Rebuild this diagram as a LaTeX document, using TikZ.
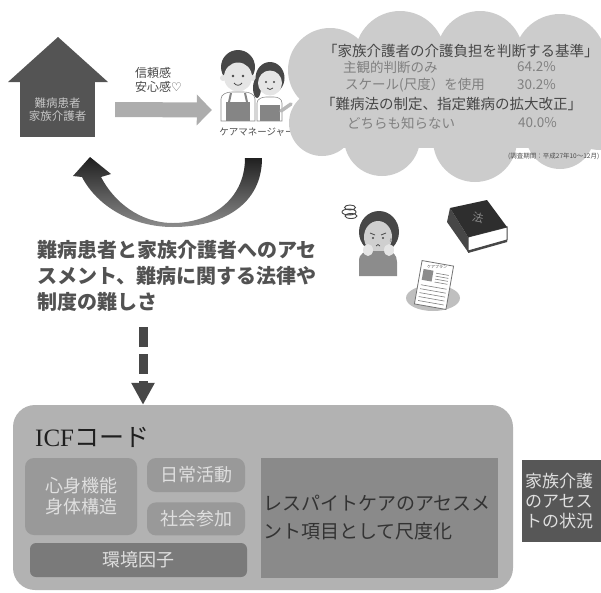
\documentclass[tikz,border=0pt]{standalone}
\usepackage{fontspec}
\setmainfont{Noto Sans CJK JP}
\newfontfamily\symfont{DejaVu Sans}
\newfontfamily\latinserif{Liberation Serif}
\usepackage{xcolor}
\usetikzlibrary{arrows.meta, positioning, calc}

\definecolor{housegray}{gray}{0.33}
\definecolor{barsgray}{gray}{0.68}
\definecolor{cloudgray}{gray}{0.80}
\definecolor{hair}{gray}{0.28}
\definecolor{skin}{gray}{0.90}
\definecolor{apron}{gray}{0.52}
\definecolor{outline}{gray}{0.55}
\definecolor{icfgray}{gray}{0.70}
\definecolor{subgray}{gray}{0.60}
\definecolor{envgray}{gray}{0.48}
\definecolor{respgray}{gray}{0.54}
\definecolor{stategray}{gray}{0.34}

\begin{document}
\begin{tikzpicture}[x=1pt, y=-1pt,
    home/.style={fill=housegray, minimum width=75pt, minimum height=55pt, inner sep=0pt, align=center, text=gray!45, font={\fontsize{11.5}{13.5}\selectfont}},
    trustarrow/.style={barsgray, line width=15pt, -{Triangle[length=15pt, width=30pt]}},
    cloudhead/.style={anchor=west, inner sep=0pt, text=black!72, font={\fontsize{14.5}{16}\selectfont}},
    clouditem/.style={anchor=west, inner sep=0pt, text=black!50, font={\fontsize{13.5}{15}\selectfont}},
    subbox/.style={fill=subgray, rounded corners=9pt, inner sep=0pt, align=center, text=gray!25, font={\fontsize{18}{21}\selectfont}},
    dashflow/.style={black!72, line width=9pt, dash pattern=on 20pt off 7pt, -{Triangle[length=22pt, width=22pt]}}]
  \useasboundingbox (0,0) rectangle (601,592);

  % house of the patient and family
  \node[home] (hbody) at (57.5,109.5) {難病患者\\家族介護者};
  \fill[housegray] (8,82) -- (58,37) -- (108,82) -- cycle;

  % care managers
  \node[minimum width=76pt, minimum height=80pt] (cm) at (250,110) {};
  \fill[hair] (238,67) ellipse (17 and 17);
  \fill[skin] (238,77) ellipse (14 and 14.5);
  \fill[skin] (223,78) circle (3); \fill[skin] (253,78) circle (3);
  \fill[hair] (233,76) circle (1.3); \fill[hair] (243,76) circle (1.3);
  \draw[hair, line width=0.8pt] (234,83) .. controls (236,86) and (240,86) .. (242,83);
  \filldraw[fill=white, draw=outline, line width=0.6pt] (221,121) -- (221,99) .. controls (221,94) and (227,92) .. (232,92) -- (244,92) .. controls (249,92) and (255,94) .. (255,99) -- (255,121) -- cycle;
  \fill[apron] (226,121) -- (226,102) -- (250,102) -- (250,121) -- cycle;
  \draw[apron, line width=2pt] (229,102) -- (231,93) (247,102) -- (245,93);
  \fill[hair] (257,88) ellipse (4 and 10);
  \fill[hair] (270,78) ellipse (14.5 and 16);
  \fill[skin] (270,83) ellipse (12 and 12.5);
  \fill[hair] (266,82) circle (1.1); \fill[hair] (274,82) circle (1.1);
  \draw[hair, line width=0.7pt] (267,88) .. controls (269,90) and (271,90) .. (273,88);
  \filldraw[fill=white, draw=outline, line width=0.6pt] (257,121) -- (257,103) .. controls (257,99) and (262,97) .. (266,97) -- (274,97) .. controls (278,97) and (282,99) .. (282,103) -- (282,121) -- cycle;
  \fill[apron] (260,121) -- (260,105) -- (280,105) -- (280,121) -- cycle;
  \draw[skin!80!black, line width=3.5pt, line cap=round] (281,111) -- (291,104);
  \node[font={\fontsize{9.5}{10}\selectfont}, text=black!70, inner sep=0pt] (cmlabel) at (257,132) {ケアマネージャー};

  % trust arrow
  \draw[trustarrow] ([xshift=20pt]hbody.east) -- (cm.west);
  \node[anchor=north west, align=left, inner sep=0pt, text=black!72, font={\fontsize{12}{14}\selectfont}] (trust) at (135,67) {信頼感\\安心感{\symfont ♡}};

  % thought cloud
  \fill[cloudgray] (330,70) circle (42) (322,123) circle (33) (400,56) circle (45)
    (480,54) circle (43) (560,60) circle (46) (382,138) circle (38)
    (475,140) circle (42) (560,135) circle (34) (600,110) circle (40);
  \fill[cloudgray] (330,60) rectangle (601,148);
  \node[cloudhead] (q1) at (323,51) {「家族介護者の介護負担を判断する基準」};
  \node[clouditem] (a1) at (343,67) {主観的判断のみ};
  \node[clouditem] (p1) at (517,67) {64.2\%};
  \node[clouditem] (a2) at (345,85) {スケール(尺度）を使用};
  \node[clouditem] (p2) at (517,85) {30.2\%};
  \node[cloudhead] (q2) at (321,104) {「難病法の制定、指定難病の拡大改正」};
  \node[clouditem] (a3) at (347,123) {どちらも知らない};
  \node[clouditem] (p3) at (518,123) {40.0\%};
  \node[anchor=west, inner sep=0pt, text=black!70, font={\fontsize{6.5}{7}\selectfont}] (period) at (508,156) {(調査期間：平成27年10～12月)};

  % returning arrow
  \shade[top color=black!88, bottom color=black!45]
    (262,158) .. controls (262,205) and (222,227) .. (173,227)
    .. controls (132,227) and (97,206) .. (82,177) -- (73,176) -- (90,157) -- (111,174) -- (101,177)
    .. controls (114,202) and (140,223) .. (173,223)
    .. controls (210,223) and (245,200) .. (245,158) -- cycle;

  % worried family carer
  \draw[hair, line width=0.9pt] (349,212) ellipse (7 and 3) (350,207.5) ellipse (5.5 and 2.5) (351,216) ellipse (6 and 2.5);
  \fill[hair] (379,232) ellipse (20 and 21);
  \fill[skin!90!black] (378,237) ellipse (14 and 16);
  \fill[black!45] (359,276) -- (359,261) .. controls (359,253) and (365,251) .. (372,251) -- (386,251) .. controls (393,251) and (397,255) .. (397,262) -- (397,276) -- cycle;
  \fill[skin] (368,250) ellipse (5 and 6) (389,250) ellipse (5 and 6);
  \draw[hair, line width=0.8pt] (370,233) -- (375,235) (386,233) -- (381,235);
  \fill[hair] (373,238) circle (1.1) (383,238) circle (1.1);
  \draw[hair, line width=0.7pt] (376,246) .. controls (377,244) and (379,244) .. (380,246);
  \filldraw[fill=white, draw=black!50, line width=0.5pt] (391,238) .. controls (388,243) and (394,243) .. (391,238);

  % law book
  \fill[hair] (450,208) -- (468,237) -- (468,252) -- (447,222) -- cycle;
  \filldraw[fill=white, draw=hair, line width=1pt] (468,237) -- (507,227) -- (507,240) -- (468,251) -- cycle;
  \draw[hair, line width=2pt] (468,252) -- (507,241);
  \fill[black!82] (450,208) -- (487,200) -- (507,227) -- (468,237) -- cycle;
  \node[rotate=-14, text=black!45, inner sep=0pt, font={\fontsize{11}{11}\selectfont}] (law) at (478,218) {法};

  % care plan sheet
  \fill[black!25] (433,298) ellipse (27 and 13);
  \begin{scope}[shift={(434,285)}, rotate=-10]
    \filldraw[fill=white, draw=black!55, line width=0.8pt] (-16,-22) rectangle (16,22);
    \node[inner sep=0pt, text=black!70, font={\fontsize{4}{4}\selectfont}] (plantitle) at (0,-18) {ケアプラン};
    \fill[black!45] (-13,-14) rectangle (-3,-3);
    \foreach \yy in {-12,-9,-6,-3}
      \draw[black!50, line width=0.6pt] (0,\yy) -- (13,\yy);
    \foreach \yy in {2,6,10,14,18}
      \draw[black!50, line width=0.6pt] (-13,\yy) -- (13,\yy);
  \end{scope}

  % difficulty statement
  \node[anchor=north west, align=left, inner sep=0pt, text=black!68, font={\fontsize{20}{26}\selectfont\bfseries}] (issue) at (37,240)
    {難病患者と家族介護者へのアセ\\スメント、難病に関する法律や\\制度の難しさ};

  % ICF code block
  \node[fill=icfgray, rounded corners=22pt, minimum width=500pt, minimum height=185pt, inner sep=0pt] (icf) at (263,497.5) {};
  \node[anchor=west, inner sep=0pt, text=black!88, font={\fontsize{25}{27}\selectfont}] (icftitle) at (35,437) {{\latinserif ICF}コード};
  \node[subbox, minimum width=112pt, minimum height=77pt] (body) at (81,496.5) {心身機能\\身体構造};
  \node[subbox, minimum width=98pt, minimum height=34pt] (act) at (196,475) {日常活動};
  \node[subbox, minimum width=98pt, minimum height=33pt, below=10pt of act] (part) {社会参加};
  \node[subbox, fill=envgray, rounded corners=6pt, minimum width=217pt, minimum height=34pt] (env) at (138.5,560) {環境因子};
  \node[fill=respgray, minimum width=237pt, minimum height=120pt, inner xsep=2pt, text width=233pt, align=left, text=black!80, font={\fontsize{19}{28}\selectfont}] (resp) at (379.5,518)
    {レスパイトケアのアセスメ\\ント項目として尺度化};
  \node[fill=stategray, minimum width=79pt, minimum height=82pt, inner xsep=3pt, text width=73pt, align=left, text=gray!25, font={\fontsize{17}{20}\selectfont}] (state) at (561.5,501)
    {家族介護\\のアセス\\トの状況};

  % dashed flow into the ICF block
  \coordinate (dtop) at (143,327);
  \draw[dashflow] (dtop) -- (icf.north -| dtop);
\end{tikzpicture}
\end{document}
